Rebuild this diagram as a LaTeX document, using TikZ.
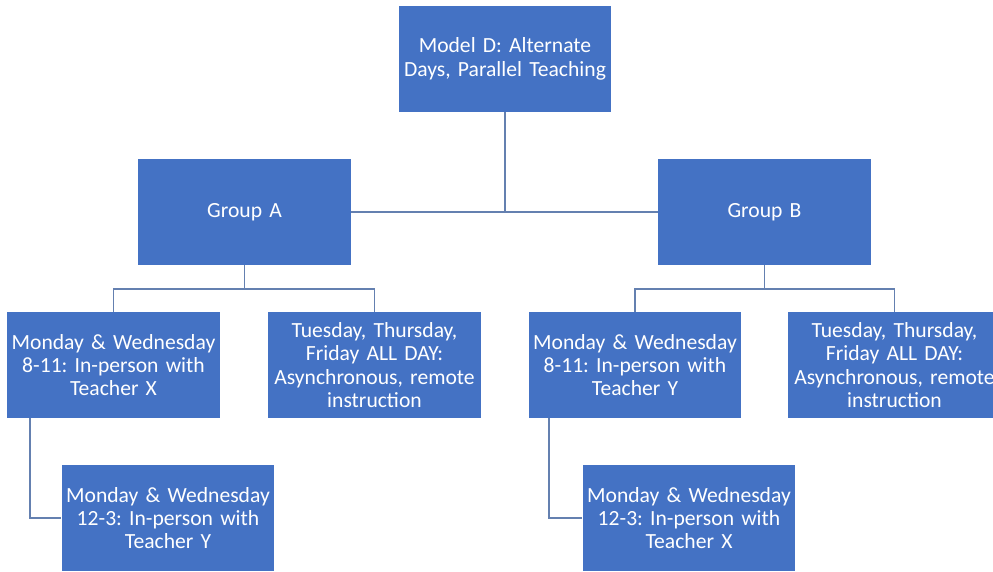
\documentclass[tikz,border=0pt]{standalone}
\usepackage{fontspec}
\setmainfont{Carlito}
\usepackage{tikz}
\usetikzlibrary{calc}
\frenchspacing
\definecolor{boxblue}{RGB}{68,114,196}
\definecolor{linkblue}{RGB}{100,128,176}
\tikzset{box/.style={rectangle,fill=boxblue,text=white,minimum width=4.26cm,minimum height=2.12cm,text width=4.26cm,align=center,inner sep=0pt,font=\fontsize{12.3}{13.3}\selectfont}}
\tikzset{link/.style={draw=linkblue,line width=1pt}}

\begin{document}
\begin{tikzpicture}
[x=0.02cm, y=-0.02cm]
\useasboundingbox (0,0) rectangle (993,571);
\node (model) at (505,59)[box]{Model D: Alternate\\Days, Parallel Teaching\\[0.25em]};
\node (grpA) at (244.5,212)[box]{Group A};
\node (grpB) at (764.5,212)[box]{Group B};
\node (a1) at (113.5,365)[box]{Monday \& Wednesday\\8-11: In-person with\\Teacher X};
\node (a2) at (374.5,365)[box]{Tuesday, Thursday,\\Friday ALL DAY:\\Asynchronous, remote\\instruction};
\node (b1) at (635,365)[box]{Monday \& Wednesday\\8-11: In-person with\\Teacher Y};
\node (b2) at (894.5,365)[box]{Tuesday, Thursday,\\Friday ALL DAY:\\Asynchronous, remote\\instruction};
\node (a3) at (168,518)[box]{Monday \& Wednesday\\12-3: In-person with\\Teacher Y\\[0.25em]};
\node (b3) at (689,518)[box]{Monday \& Wednesday\\12-3: In-person with\\Teacher X\\[0.25em]};

\draw[link] (grpA.east) -- (grpB.west);
\draw[link] (model.south) -- (model.south |- grpA.east);
\draw[link] (grpA.south) -- ++(0,23.5) coordinate (ja);
\draw[link] (a1.north) |- (ja) -| (a2.north);
\draw[link] (grpB.south) -- ++(0,23.5) coordinate (jb);
\draw[link] (b1.north) |- (jb) -| (b2.north);
\draw[link] ($(a1.south west)+(23,0)$) |- (a3.west);
\draw[link] ($(b1.south west)+(21,0)$) |- (b3.west);
\end{tikzpicture}
\end{document}
